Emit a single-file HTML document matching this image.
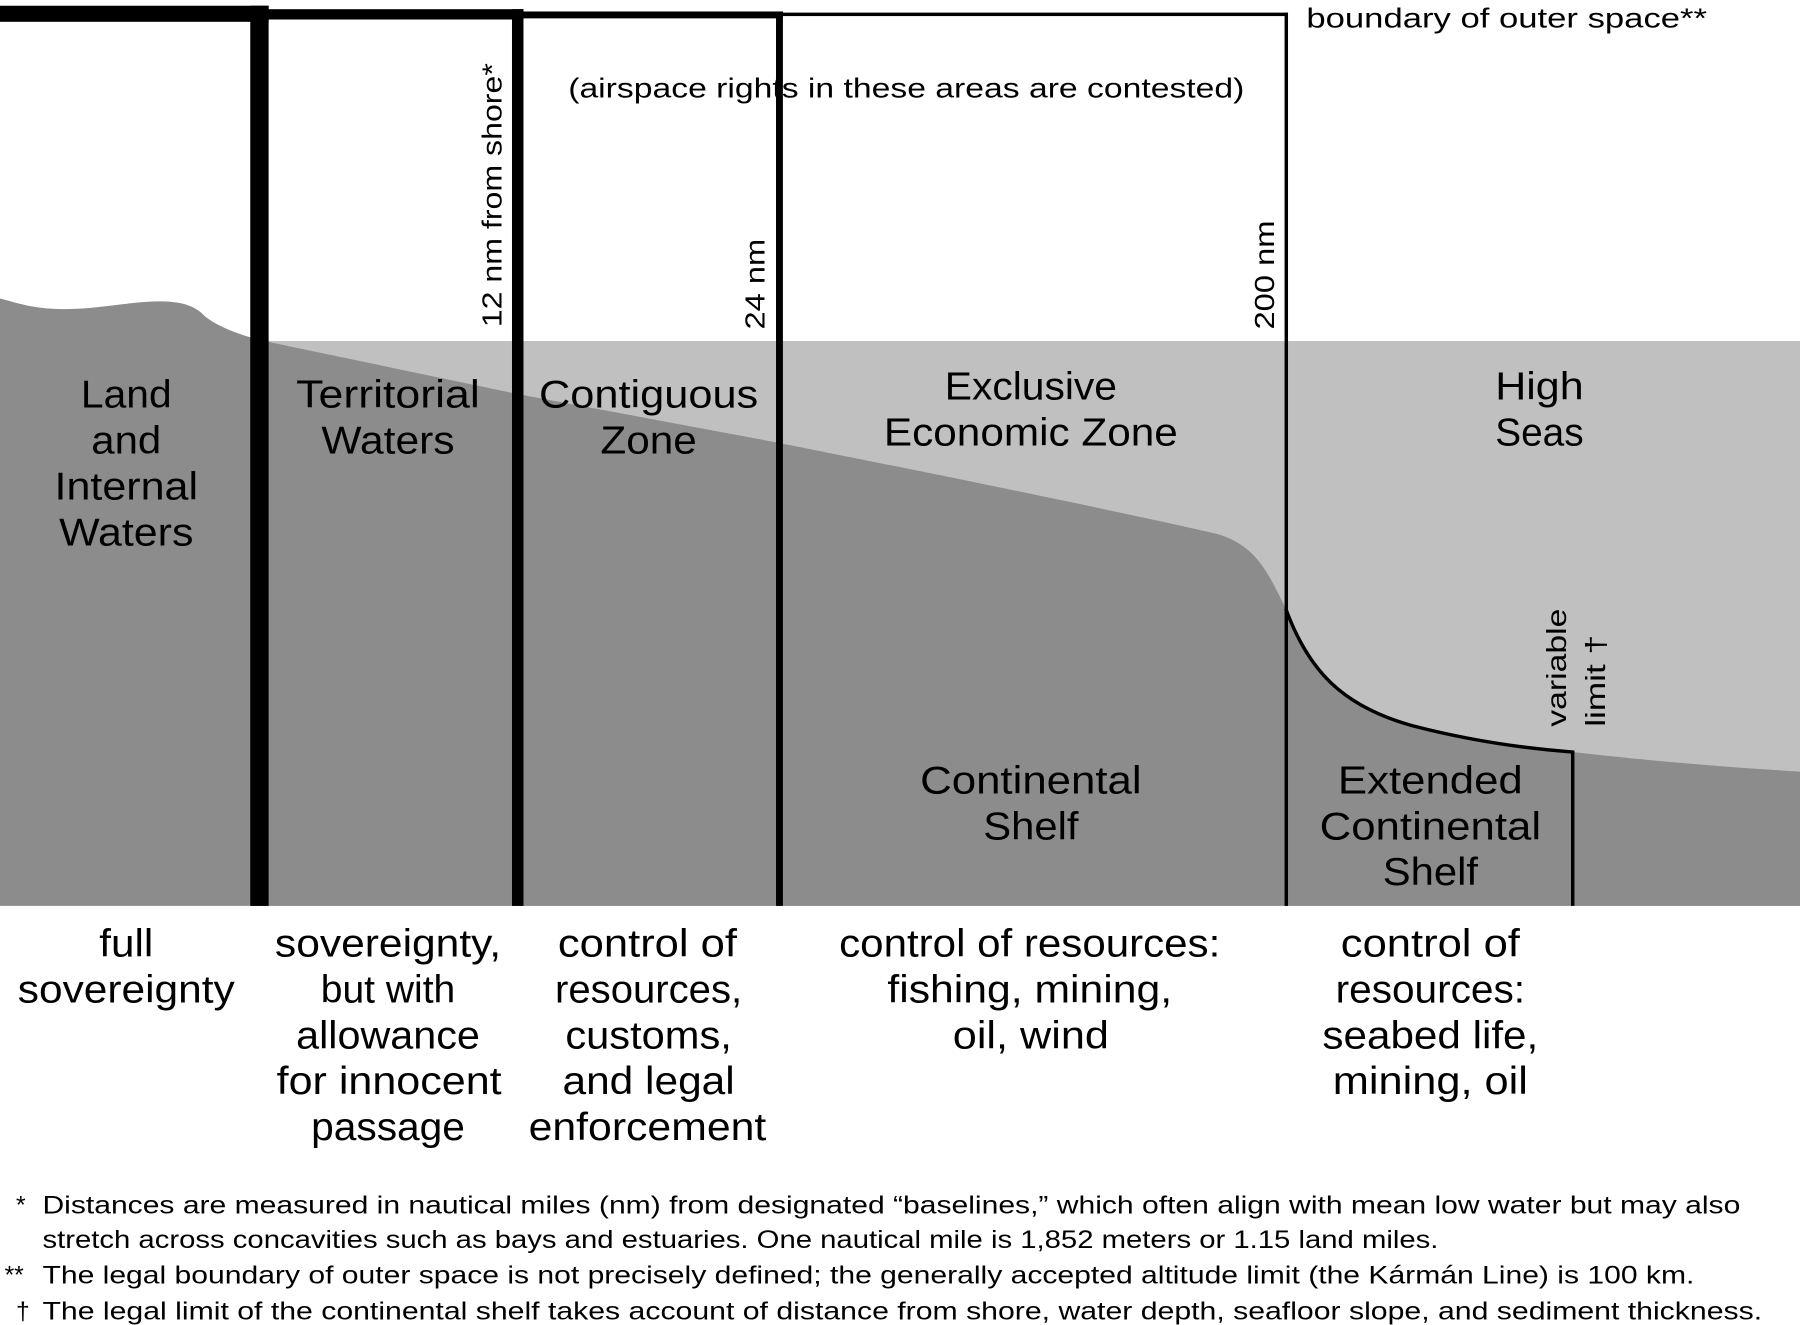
<!DOCTYPE html>
<html><head><meta charset="utf-8"><style>
html,body{margin:0;padding:0;background:#fff;}
svg{display:block;}
text{font-family:"Liberation Sans","DejaVu Sans",sans-serif;fill:#000;}
</style></head><body>
<svg width="1800" height="1325" viewBox="0 0 1568 1154" preserveAspectRatio="none" xmlns="http://www.w3.org/2000/svg">
<rect width="1568" height="1154" fill="#fff"/>
<rect x="226" y="297" width="1342" height="492" fill="#c0c0c0"/>
<path d="M0,260 C20,265 35,272 80,268 C120,264 160,255 178,275 C190,285 210,292 230,297 L450,343 L680,386 C800,410 950,440 1060,465 C1095,475 1105,500 1120,530 C1140,585 1170,615 1230,632 C1280,645 1330,652 1370,655 C1430,662 1500,668 1568,672 L1568,789 L0,789 Z" fill="#8c8c8c"/>
<path d="M1120,530 C1140,585 1170,615 1230,632 C1280,645 1330,652 1370,655 L1370,789" fill="none" stroke="#000" stroke-width="3"/>
<rect x="0" y="5" width="234" height="14" fill="#000"/>
<rect x="218" y="5" width="16" height="784" fill="#000"/>
<rect x="226" y="8" width="230" height="9" fill="#000"/>
<rect x="446" y="8" width="10" height="781" fill="#000"/>
<rect x="451" y="10" width="231" height="6" fill="#000"/>
<rect x="676" y="10" width="6" height="779" fill="#000"/>
<rect x="679" y="11" width="443" height="3" fill="#000"/>
<rect x="1119" y="11" width="3" height="778" fill="#000"/>
<g font-size="24">
<text x="1138" y="24" textLength="349" lengthAdjust="spacingAndGlyphs">boundary of outer space**</text>
<text x="495" y="85" textLength="589" lengthAdjust="spacingAndGlyphs">(airspace rights in these areas are contested)</text>
<text transform="translate(437,285) rotate(-90)" textLength="230" lengthAdjust="spacingAndGlyphs">12 nm from shore*</text>
<text transform="translate(666,287) rotate(-90)" textLength="79" lengthAdjust="spacingAndGlyphs">24 nm</text>
<text transform="translate(1110,287) rotate(-90)" textLength="95" lengthAdjust="spacingAndGlyphs">200 nm</text>
<text transform="translate(1364,633) rotate(-90)" textLength="103" lengthAdjust="spacingAndGlyphs">variable</text>
<text transform="translate(1398,633) rotate(-90)" textLength="80" lengthAdjust="spacingAndGlyphs">limit †</text>
</g>
<g font-size="34" text-anchor="middle">
<text x="110" y="355" textLength="79" lengthAdjust="spacingAndGlyphs">Land</text>
<text x="110" y="395" textLength="61" lengthAdjust="spacingAndGlyphs">and</text>
<text x="110" y="435" textLength="125" lengthAdjust="spacingAndGlyphs">Internal</text>
<text x="110" y="475" textLength="117" lengthAdjust="spacingAndGlyphs">Waters</text>
<text x="338" y="355" textLength="160" lengthAdjust="spacingAndGlyphs">Territorial</text>
<text x="338" y="395" textLength="116" lengthAdjust="spacingAndGlyphs">Waters</text>
<text x="565" y="355" textLength="191" lengthAdjust="spacingAndGlyphs">Contiguous</text>
<text x="565" y="395" textLength="84" lengthAdjust="spacingAndGlyphs">Zone</text>
<text x="898" y="348" textLength="150" lengthAdjust="spacingAndGlyphs">Exclusive</text>
<text x="898" y="388" textLength="256" lengthAdjust="spacingAndGlyphs">Economic Zone</text>
<text x="1341" y="348" textLength="77" lengthAdjust="spacingAndGlyphs">High</text>
<text x="1341" y="388" textLength="77" lengthAdjust="spacingAndGlyphs">Seas</text>
<text x="898" y="691" textLength="193" lengthAdjust="spacingAndGlyphs">Continental</text>
<text x="898" y="731" textLength="83" lengthAdjust="spacingAndGlyphs">Shelf</text>
<text x="1246" y="691" textLength="161" lengthAdjust="spacingAndGlyphs">Extended</text>
<text x="1246" y="731" textLength="193" lengthAdjust="spacingAndGlyphs">Continental</text>
<text x="1246" y="771" textLength="83" lengthAdjust="spacingAndGlyphs">Shelf</text>
<text x="110" y="833" textLength="47" lengthAdjust="spacingAndGlyphs">full</text>
<text x="110" y="873" textLength="189" lengthAdjust="spacingAndGlyphs">sovereignty</text>
<text x="338" y="833" textLength="197" lengthAdjust="spacingAndGlyphs">sovereignty,</text>
<text x="338" y="873">but with</text>
<text x="338" y="913" textLength="160" lengthAdjust="spacingAndGlyphs">allowance</text>
<text x="339" y="953" textLength="196" lengthAdjust="spacingAndGlyphs">for innocent</text>
<text x="338" y="993" textLength="134" lengthAdjust="spacingAndGlyphs">passage</text>
<text x="564" y="833" textLength="156" lengthAdjust="spacingAndGlyphs">control of</text>
<text x="565" y="873" textLength="163" lengthAdjust="spacingAndGlyphs">resources,</text>
<text x="565" y="913" textLength="145" lengthAdjust="spacingAndGlyphs">customs,</text>
<text x="565" y="953" textLength="150" lengthAdjust="spacingAndGlyphs">and legal</text>
<text x="564" y="993" textLength="207" lengthAdjust="spacingAndGlyphs">enforcement</text>
<text x="897" y="833" textLength="332" lengthAdjust="spacingAndGlyphs">control of resources:</text>
<text x="897" y="873" textLength="248" lengthAdjust="spacingAndGlyphs">fishing, mining,</text>
<text x="898" y="913" textLength="136" lengthAdjust="spacingAndGlyphs">oil, wind</text>
<text x="1246" y="833" textLength="156" lengthAdjust="spacingAndGlyphs">control of</text>
<text x="1246" y="873" textLength="165" lengthAdjust="spacingAndGlyphs">resources:</text>
<text x="1246" y="913" textLength="188" lengthAdjust="spacingAndGlyphs">seabed life,</text>
<text x="1246" y="953" textLength="170" lengthAdjust="spacingAndGlyphs">mining, oil</text>
</g>
<g font-size="21.5">
<text x="14" y="1057">*</text>
<text x="37" y="1057" textLength="1479" lengthAdjust="spacingAndGlyphs">Distances are measured in nautical miles (nm) from designated “baselines,” which often align with mean low water but may also</text>
<text x="37" y="1087" textLength="1216" lengthAdjust="spacingAndGlyphs">stretch across concavities such as bays and estuaries. One nautical mile is 1,852 meters or 1.15 land miles.</text>
<text x="4" y="1118">**</text>
<text x="37" y="1118" textLength="1439" lengthAdjust="spacingAndGlyphs">The legal boundary of outer space is not precisely defined; the generally accepted altitude limit (the Kármán Line) is 100 km.</text>
<text x="14" y="1149">†</text>
<text x="37" y="1149" textLength="1498" lengthAdjust="spacingAndGlyphs">The legal limit of the continental shelf takes account of distance from shore, water depth, seafloor slope, and sediment thickness.</text>
</g>
</svg>
</body></html>
